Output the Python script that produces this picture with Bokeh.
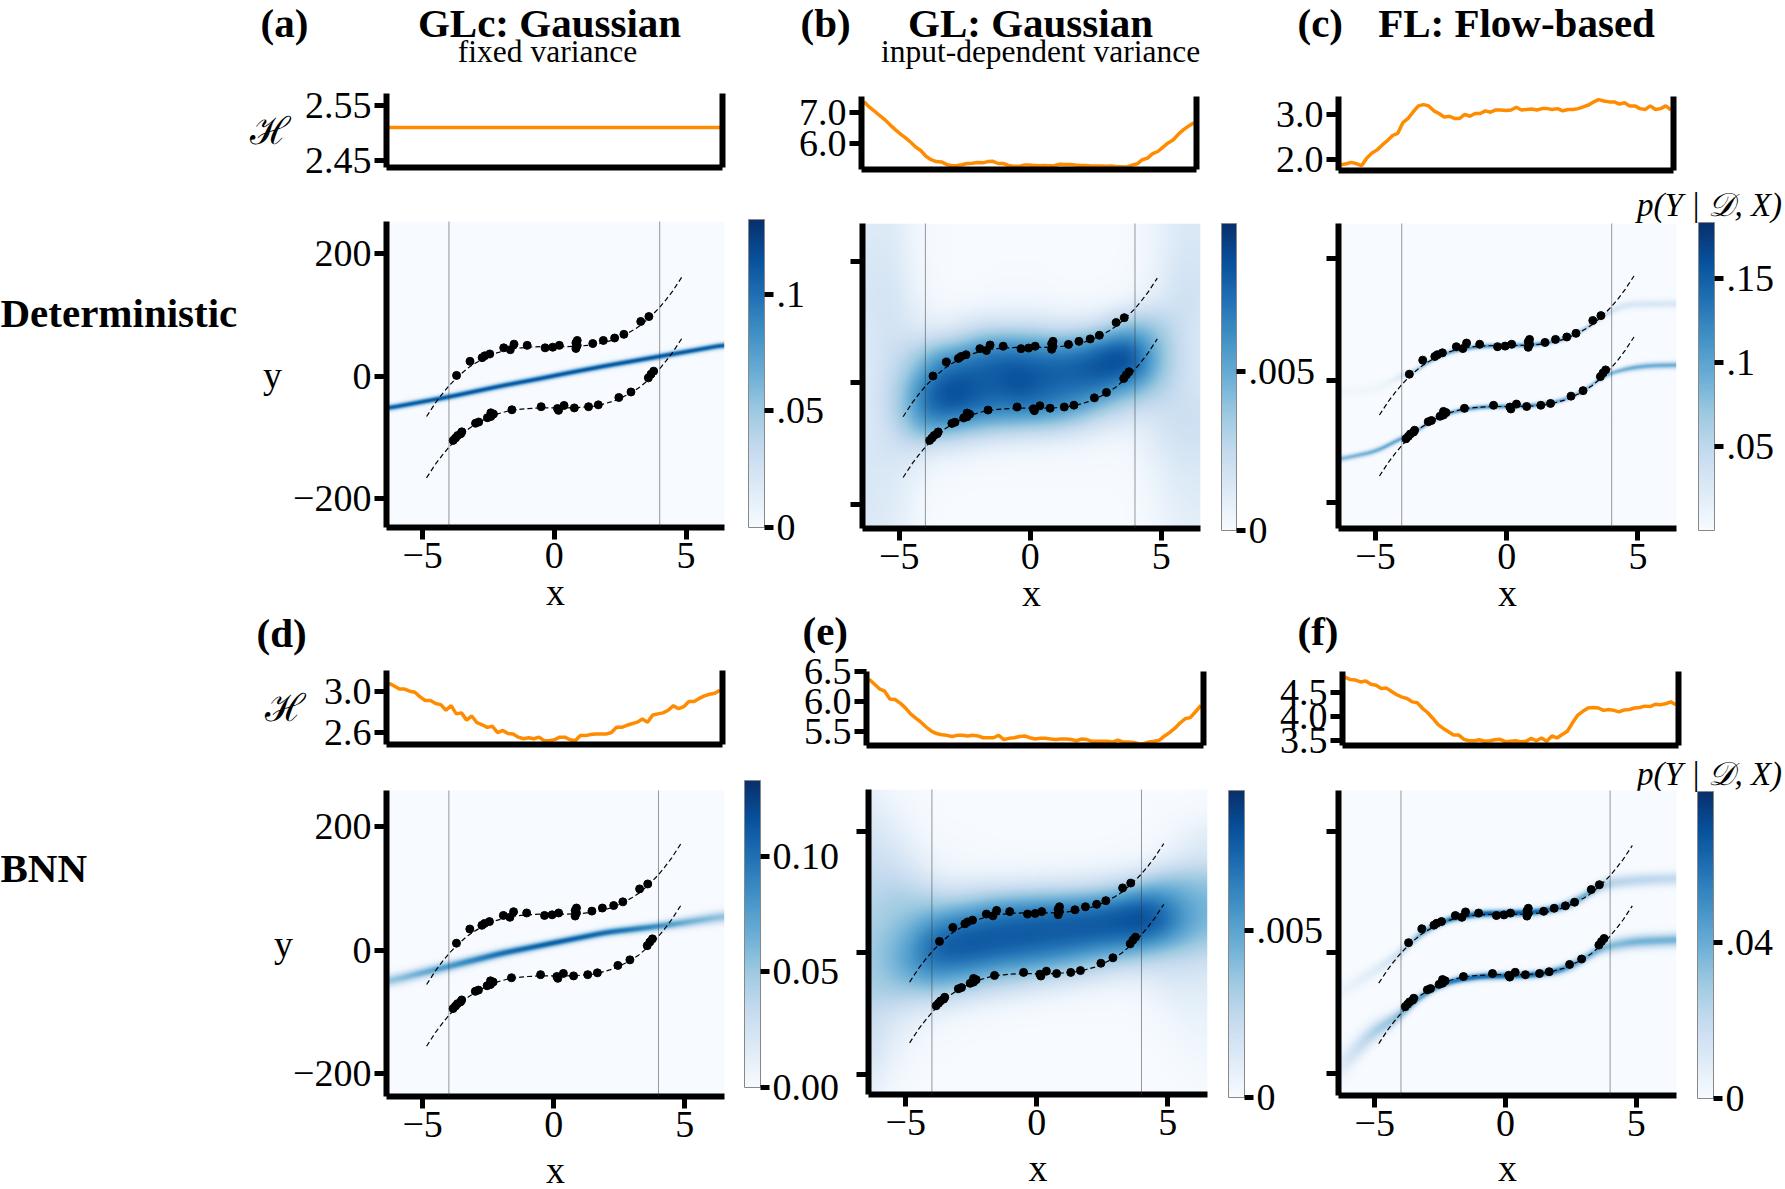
import numpy as np
from bokeh.embed import file_html
from bokeh.layouts import column
from bokeh.models import ColorBar, FixedTicker, Label, LinearAxis, LinearColorMapper, NumeralTickFormatter, Span
from bokeh.palettes import Blues256
from bokeh.plotting import figure
from bokeh.resources import INLINE

FONT = "Liberation Serif"
ORANGE = "#ff8c00"
BLUES = list(Blues256[::-1])
# a column lines up the frames of its figures, so every figure gets the same side borders
ML, MR = 170, 200

# entropy curves, one sample every 0.2 from -6.4 to 6.4
H_X = [-6.4, -6.2, -6.0, -5.8, -5.6, -5.4, -5.2, -5.0, -4.8, -4.6, -4.4, -4.2, -4.0,
       -3.8, -3.6, -3.4, -3.2, -3.0, -2.8, -2.6, -2.4, -2.2, -2.0, -1.8, -1.6, -1.4,
       -1.2, -1.0, -0.8, -0.6, -0.4, -0.2, 0.0, 0.2, 0.4, 0.6, 0.8, 1.0, 1.2, 1.4,
       1.6, 1.8, 2.0, 2.2, 2.4, 2.6, 2.8, 3.0, 3.2, 3.4, 3.6, 3.8, 4.0, 4.2, 4.4,
       4.6, 4.8, 5.0, 5.2, 5.4, 5.6, 5.8, 6.0, 6.2, 6.4]
H_A_X = [-6.5, 6.5]
H_A = [2.51, 2.51]
H_B = [7.33, 7.17, 7.04, 6.90, 6.77, 6.61, 6.46, 6.32, 6.20, 6.06, 5.90, 5.79, 5.61,
       5.50, 5.44, 5.43, 5.35, 5.31, 5.32, 5.34, 5.38, 5.39, 5.41, 5.40, 5.44, 5.45,
       5.38, 5.38, 5.32, 5.29, 5.29, 5.33, 5.33, 5.32, 5.31, 5.32, 5.31, 5.32, 5.36,
       5.35, 5.35, 5.33, 5.32, 5.32, 5.30, 5.30, 5.30, 5.29, 5.30, 5.28, 5.28, 5.27,
       5.33, 5.37, 5.50, 5.55, 5.69, 5.76, 5.90, 6.03, 6.13, 6.31, 6.45, 6.57, 6.67]
H_C = [1.88, 1.90, 1.93, 1.90, 1.86, 2.03, 2.14, 2.21, 2.32, 2.42, 2.53, 2.58, 2.82,
       2.91, 3.06, 3.19, 3.22, 3.19, 3.08, 3.02, 2.94, 2.96, 2.91, 2.91, 3.00, 2.96,
       3.02, 3.02, 3.08, 3.05, 3.10, 3.10, 3.09, 3.10, 3.16, 3.10, 3.11, 3.12, 3.10,
       3.13, 3.13, 3.11, 3.13, 3.08, 3.11, 3.11, 3.13, 3.17, 3.21, 3.28, 3.33, 3.30,
       3.28, 3.28, 3.23, 3.26, 3.19, 3.19, 3.13, 3.11, 3.19, 3.11, 3.13, 3.19, 3.10]
H_D = [3.075, 3.05, 3.02, 3.02, 3.00, 2.99, 2.945, 2.91, 2.91, 2.88, 2.87, 2.815, 2.86,
       2.78, 2.79, 2.72, 2.76, 2.695, 2.675, 2.65, 2.66, 2.60, 2.62, 2.59, 2.585, 2.555,
       2.54, 2.55, 2.54, 2.555, 2.52, 2.52, 2.53, 2.555, 2.555, 2.53, 2.52, 2.57, 2.57,
       2.58, 2.585, 2.585, 2.585, 2.60, 2.65, 2.65, 2.67, 2.685, 2.70, 2.73, 2.70, 2.77,
       2.78, 2.79, 2.815, 2.86, 2.83, 2.85, 2.90, 2.90, 2.93, 2.955, 2.97, 2.98, 3.01]
H_E = [6.37, 6.29, 6.21, 6.17, 6.04, 6.03, 5.97, 5.89, 5.79, 5.72, 5.65, 5.57, 5.50,
       5.46, 5.44, 5.43, 5.41, 5.43, 5.43, 5.42, 5.43, 5.42, 5.39, 5.39, 5.39, 5.43,
       5.36, 5.38, 5.39, 5.41, 5.42, 5.39, 5.37, 5.38, 5.38, 5.37, 5.36, 5.37, 5.37,
       5.36, 5.34, 5.37, 5.36, 5.33, 5.33, 5.33, 5.33, 5.32, 5.35, 5.32, 5.32, 5.31,
       5.29, 5.29, 5.32, 5.33, 5.35, 5.42, 5.48, 5.55, 5.64, 5.71, 5.73, 5.83, 5.93]
H_F = [4.83, 4.78, 4.77, 4.73, 4.75, 4.68, 4.66, 4.59, 4.60, 4.53, 4.46, 4.41, 4.38,
       4.31, 4.29, 4.17, 4.08, 3.96, 3.83, 3.75, 3.68, 3.61, 3.61, 3.52, 3.49, 3.49,
       3.51, 3.48, 3.49, 3.51, 3.52, 3.47, 3.48, 3.49, 3.47, 3.48, 3.54, 3.49, 3.55,
       3.48, 3.59, 3.55, 3.62, 3.69, 3.87, 4.03, 4.11, 4.18, 4.19, 4.18, 4.13, 4.15,
       4.13, 4.10, 4.14, 4.15, 4.18, 4.19, 4.22, 4.21, 4.26, 4.25, 4.27, 4.31, 4.25]

# dashed ground truth branches
CURVE_X = [-4.85, -4.5, -4.25, -4, -3.75, -3.5, -3.25, -3, -2.75, -2.5, -2.25, -2, -1.75,
           -1.5, -1.25, -1, -0.5, 0, 0.5, 1, 1.25, 1.5, 1.75, 2, 2.25, 2.5, 2.75, 3, 3.25,
           3.5, 3.75, 4, 4.25, 4.5, 4.85]
CURVE_UPPER = [-64, -41, -27, -14, -3, 7, 16, 23, 29, 34, 39, 42, 45, 47, 48, 49, 50, 50, 50,
               51, 52, 53, 55, 58, 61, 66, 71, 77, 84, 93, 103, 114, 127, 141, 164]
CURVE_LOWER = [-164, -141, -127, -114, -103, -93, -84, -77, -71, -66, -61, -58, -55, -53, -52,
               -51, -50, -50, -50, -49, -48, -47, -45, -42, -39, -34, -29, -23, -16, -7, 3,
               14, 27, 41, 64]

# training points
DOTS_UP_X = [-3.71, -3.20, -2.74, -2.64, -2.45, -1.92, -1.67, -1.53, -1.03, -0.35, -0.06, 0.19,
             0.82, 0.82, 0.87, 0.87, 1.46, 1.86, 2.29, 2.64, 3.28, 3.59]
DOTS_UP_Y = [3, 26, 32, 35, 38, 48, 45, 54, 52, 48, 49, 52, 47, 56, 60, 52, 55, 60, 64, 70, 91, 99]
DOTS_LOW_X = [-3.84, -3.75, -3.67, -3.55, -3.51, -2.99, -2.87, -2.54, -2.41, -2.41, -2.31, -1.61,
              -0.5, 0.12, 0.16, 0.37, 0.76, 1.3, 1.67, 2.45, 2.91, 3.57, 3.67, 3.77]
DOTS_LOW_Y = [-103, -99, -95, -92, -89, -75, -73, -66, -58, -64, -60, -53, -48, -51, -54, -46, -50,
              -48, -45, -33, -24, -1, 5, 10]

# predictive density, read as percent of each colour scale
B_X = [-6.31, -5.73, -5.09, -4.57, -4.05, -3.54, -2.77, -2.0, -1.22, -0.46, 0.32, 1.1, 1.87, 2.64,
       3.41, 4.05, 4.7, 5.35, 5.99, 6.62]
B_Y = [261, 219, 175, 137, 109, 86, 64, 42, 20, -2, -24, -46, -69, -91, -113, -146, -191, -240]
B_DENSITY = [
    [12, 14, 12, 5, 2, 1, 0, 0, 0, 0, 0, 0, 0, 0, 0, 2, 5, 12, 15, 14],
    [14, 16, 13, 6, 2, 1, 0, 0, 0, 0, 0, 0, 0, 0, 0, 2, 5, 12, 17, 15],
    [15, 17, 15, 7, 3, 1, 0, 0, 1, 1, 1, 0, 0, 0, 1, 2, 6, 14, 20, 16],
    [16, 18, 17, 9, 5, 2, 1, 2, 3, 3, 3, 2, 2, 2, 3, 6, 10, 17, 22, 17],
    [15, 18, 18, 12, 9, 6, 8, 12, 12, 12, 12, 10, 10, 12, 25, 30, 30, 25, 20, 15],
    [14, 18, 19, 15, 14, 14, 18, 28, 32, 32, 30, 26, 28, 35, 48, 52, 42, 30, 20, 14],
    [13, 18, 22, 24, 28, 35, 42, 55, 60, 60, 58, 55, 58, 70, 80, 72, 50, 32, 20, 13],
    [13, 18, 25, 32, 45, 58, 65, 72, 78, 78, 75, 75, 78, 86, 92, 84, 55, 33, 20, 13],
    [12, 18, 28, 40, 55, 72, 80, 82, 84, 88, 84, 82, 84, 88, 88, 78, 52, 32, 20, 14],
    [12, 20, 32, 48, 70, 82, 88, 84, 84, 90, 84, 80, 78, 76, 68, 58, 42, 28, 20, 15],
    [12, 20, 34, 52, 75, 86, 92, 82, 78, 82, 78, 72, 68, 60, 45, 38, 30, 25, 20, 17],
    [13, 20, 34, 50, 70, 78, 78, 72, 68, 68, 66, 60, 52, 38, 28, 22, 20, 22, 22, 20],
    [13, 18, 30, 44, 58, 60, 55, 48, 44, 42, 40, 36, 28, 18, 14, 12, 15, 20, 22, 20],
    [14, 18, 24, 32, 38, 34, 30, 24, 20, 18, 16, 14, 11, 7, 5, 6, 12, 18, 20, 20],
    [15, 17, 18, 18, 16, 12, 10, 7, 5, 4, 4, 3, 3, 2, 2, 4, 10, 15, 18, 17],
    [15, 15, 14, 10, 6, 3, 2, 1, 1, 1, 1, 1, 1, 1, 1, 2, 6, 12, 15, 14],
    [15, 14, 12, 7, 2, 1, 0, 0, 0, 0, 0, 0, 0, 0, 0, 1, 4, 9, 12, 12],
    [14, 14, 10, 5, 1, 0, 0, 0, 0, 0, 0, 0, 0, 0, 0, 1, 3, 7, 10, 10],
]
E_X = [-6.28, -5.77, -5.12, -4.61, -3.96, -3.32, -2.55, -1.77, -1.0, -0.23, 0.54, 1.31, 2.09, 2.86,
       3.63, 4.15, 4.78, 5.43, 6.08, 6.65]
E_Y = [269, 231, 193, 154, 126, 104, 82, 60, 37, 15, -7, -29, -52, -74, -96, -124, -157, -195, -233]
E_DENSITY = [
    [8, 3, 2, 1, 0, 0, 0, 0, 0, 0, 0, 0, 0, 0, 0, 0, 0, 0, 0, 1],
    [14, 8, 5, 2, 1, 0, 0, 0, 0, 0, 0, 0, 0, 0, 0, 0, 1, 1, 2, 3],
    [18, 14, 10, 5, 2, 1, 1, 0, 0, 0, 0, 0, 0, 0, 1, 1, 2, 5, 10, 12],
    [22, 20, 16, 11, 5, 3, 2, 2, 2, 2, 2, 2, 2, 3, 3, 4, 8, 14, 18, 18],
    [26, 26, 24, 18, 12, 8, 7, 8, 8, 8, 10, 10, 12, 14, 20, 26, 35, 38, 38, 36],
    [28, 30, 30, 28, 24, 20, 22, 25, 25, 28, 28, 30, 32, 38, 48, 55, 56, 50, 46, 42],
    [30, 34, 36, 36, 36, 38, 42, 50, 56, 58, 60, 62, 66, 70, 78, 80, 72, 60, 50, 46],
    [32, 36, 40, 44, 52, 60, 66, 72, 76, 78, 80, 82, 84, 86, 90, 90, 82, 66, 52, 46],
    [34, 40, 46, 56, 70, 78, 82, 84, 85, 86, 85, 85, 85, 84, 86, 84, 76, 60, 48, 42],
    [36, 42, 50, 64, 78, 84, 86, 85, 84, 82, 80, 78, 74, 70, 66, 62, 54, 46, 38, 34],
    [36, 44, 54, 66, 78, 82, 80, 76, 72, 68, 64, 58, 50, 44, 40, 36, 32, 28, 26, 24],
    [36, 42, 50, 58, 66, 64, 60, 54, 50, 46, 40, 34, 28, 22, 18, 18, 18, 20, 18, 16],
    [34, 38, 42, 46, 48, 46, 40, 32, 28, 22, 18, 14, 10, 7, 7, 8, 12, 14, 14, 12],
    [30, 32, 30, 28, 28, 24, 18, 14, 10, 7, 5, 3, 3, 2, 2, 4, 7, 10, 11, 10],
    [26, 22, 18, 14, 12, 8, 5, 3, 2, 2, 1, 1, 1, 1, 1, 2, 4, 7, 8, 8],
    [22, 16, 10, 6, 3, 2, 1, 1, 0, 0, 0, 0, 0, 0, 0, 1, 2, 4, 6, 6],
    [20, 12, 6, 3, 1, 1, 0, 0, 0, 0, 0, 0, 0, 0, 0, 0, 1, 2, 4, 4],
    [14, 7, 3, 1, 0, 0, 0, 0, 0, 0, 0, 0, 0, 0, 0, 0, 0, 1, 2, 2],
    [8, 3, 1, 0, 0, 0, 0, 0, 0, 0, 0, 0, 0, 0, 0, 0, 0, 0, 1, 1],
]

# narrow ridges: centre, spread and peak (percent of colour scale) along x
A_RIDGE_X = [-6.4, -4, -2, -0.4, 0.4, 2, 4, 6.5]
A_RIDGE_Y = [-53, -34, -16, -3, 4, 17, 32, 51]
A_RIDGE_S = [3.6, 3.6, 3.6, 3.6, 3.6, 3.6, 3.6, 3.6]
A_RIDGE_P = [85, 88, 88, 88, 88, 88, 88, 85]
D_RIDGE_X = [-6.4, -4, -2, 0, 2, 4, 5, 6.5]
D_RIDGE_Y = [-51, -26, -5, 12, 29, 39, 45, 55]
D_RIDGE_S = [7, 6, 5, 4.5, 4.5, 5, 6, 7]
D_RIDGE_P = [38, 60, 78, 85, 80, 65, 50, 40]
C_LOW_X = [-6.4, -5, -4, -3.5, -3, -2.5, -2, -1, 0, 1, 2, 2.5, 3, 3.5, 3.62, 4, 4.5, 5, 5.5, 6.5]
C_LOW_Y = [-130, -117, -95, -86, -70, -59, -51, -44, -43, -42, -35, -27, -16, 0, 5, 12, 18, 22, 24, 25]
C_LOW_S = [3.5, 3.5, 3.5, 3, 3, 3, 3, 3, 3, 3, 3, 3, 3, 3, 3, 3, 3.5, 4, 4, 4]
C_LOW_P = [45, 50, 55, 50, 50, 52, 55, 60, 60, 60, 55, 45, 45, 45, 45, 45, 50, 50, 50, 50]
C_UP_X = [-6.4, -5, -4.3, -4, -3.5, -3, -2.5, -2, -1, 0, 1, 2, 2.5, 3, 3.5, 3.8, 4.2, 4.5, 5, 6.5]
C_UP_Y = [-20, -15, 2, 8, 14, 30, 41, 49, 56, 57, 58, 65, 73, 84, 100, 109, 118, 124, 125, 126]
C_UP_S = [6, 6, 5, 4, 3, 3, 3, 3, 3, 3, 3, 3, 3, 3, 3, 4, 4.5, 5, 5, 5]
C_UP_P = [3, 4, 6, 12, 35, 45, 50, 55, 60, 60, 60, 50, 40, 40, 30, 20, 14, 15, 15, 15]
F_LOW_X = [-6.4, -5.2, -4.6, -4, -3.5, -3, -2.5, -2, -1, 0, 1, 2, 2.5, 3, 3.5, 4.05, 4.5, 5.1, 6.7]
F_LOW_Y = [-192, -136, -120, -103, -82, -66, -55, -47, -40, -39, -38, -31, -23, -12, 4, 11, 15, 18, 21]
F_LOW_S = [18, 13, 10, 8, 6, 5, 4.5, 4.5, 4.5, 4.5, 4.5, 5, 6, 6, 6, 8, 8, 8, 8]
F_LOW_P = [10, 30, 38, 42, 55, 60, 65, 75, 80, 80, 80, 70, 55, 50, 50, 42, 45, 48, 48]
F_UP_X = [-6.4, -5.2, -4.07, -3.5, -3, -2.5, -2, -1, 0, 1, 2, 2.5, 3, 3.5, 3.9, 4.3, 5.1, 6.7]
F_UP_Y = [-68, -36, -3, 23, 38, 49, 57, 64, 65, 66, 73, 81, 92, 108, 114, 117, 120, 123]
F_UP_S = [10, 9, 7, 6, 5, 4.5, 4.5, 4.5, 4.5, 4.5, 5, 6, 6, 6, 8, 8, 8, 8]
F_UP_P = [5, 10, 18, 40, 55, 65, 75, 85, 85, 85, 70, 55, 50, 45, 30, 28, 28, 25]

X_TICKS = [-5, 0, 5]
Y_TICKS = [-200, 0, 200]
VLINES = [-4, 4]

# frame boxes in page pixels: left, right, top, bottom
PANELS = [
    dict(h=H_A, hx=H_A_X, hbox=(386.5, 722, 93, 167), hy=(2.437, 2.572), hticks=[2.45, 2.55], hfmt="0.00", hstand=12,
         box=(386.5, 724, 221, 527), xr=(-6.37, 6.46), yr=(-247, 252), shift=-2, ystand=8, xstand=0,
         ridges=[(A_RIDGE_X, A_RIDGE_Y, A_RIDGE_S, A_RIDGE_P)],
         cb=(748, 764, 219, 527), vmax=0.132, cticks={0: "0", 0.05: ".05", 0.1: ".1"}),
    dict(h=H_B, hx=H_X, hbox=(861, 1196, 96, 169), hy=(5.19, 7.5), hticks=[6.0, 7.0], hfmt="0.0", hstand=None,
         box=(862.5, 1200, 223, 528), xr=(-6.4, 6.5), yr=(-240, 262), shift=8, ystand=None, xstand=0,
         matrix=(B_X, B_Y, B_DENSITY),
         cb=(1221.5, 1236.5, 223, 530), vmax=0.00965, cticks={0: "0", 0.005: ".005"}),
    dict(h=H_C, hx=H_X, hbox=(1338, 1673, 96.5, 171), hy=(1.75, 3.4), hticks=[2.0, 3.0], hfmt="0.0", hstand=None,
         box=(1338, 1675.6, 223, 528), xr=(-6.41, 6.47), yr=(-243, 257), shift=7, ystand=None, xstand=0,
         ridges=[(C_LOW_X, C_LOW_Y, C_LOW_S, C_LOW_P), (C_UP_X, C_UP_Y, C_UP_S, C_UP_P)],
         cb=(1697.6, 1713.3, 222, 530), vmax=0.183, cticks={0.05: ".05", 0.1: ".1", 0.15: ".15"}),
    dict(h=H_D, hx=H_X, hbox=(386.5, 722, 670, 744), hy=(2.484, 3.2), hticks=[2.6, 3.0], hfmt="0.0", hstand=16,
         box=(386.5, 724, 790.5, 1096), xr=(-6.38, 6.52), yr=(-237, 259), shift=8.5, ystand=-3, xstand=9,
         ridges=[(D_RIDGE_X, D_RIDGE_Y, D_RIDGE_S, D_RIDGE_P)],
         cb=(745, 761.5, 779.6, 1087), vmax=0.1327, cticks={0: "0.00", 0.05: "0.05", 0.1: "0.10"}),
    dict(h=H_E, hx=H_X, hbox=(866, 1203, 670.6, 744.6), hy=(5.26, 6.5), hticks=[5.5, 6.0, 6.5], hfmt="0.0", hstand=None,
         box=(868, 1206.6, 789, 1094), xr=(-6.42, 6.52), yr=(-233, 269), shift=16, ystand=None, xstand=9,
         matrix=(E_X, E_Y, E_DENSITY),
         cb=(1228, 1243.6, 789.7, 1097), vmax=0.0092, cticks={0: "0", 0.005: ".005"}),
    dict(h=H_F, hx=H_X, hbox=(1342, 1678, 670.6, 745), hy=(3.39, 4.95), hticks=[3.5, 4.0, 4.5], hfmt="0.0", hstand=None,
         box=(1338, 1676, 789.7, 1094.4), xr=(-6.39, 6.54), yr=(-237, 268), shift=13, ystand=None, xstand=8,
         ridges=[(F_LOW_X, F_LOW_Y, F_LOW_S, F_LOW_P), (F_UP_X, F_UP_Y, F_UP_S, F_UP_P)],
         cb=(1697, 1713, 789.7, 1097), vmax=0.0785, cticks={0: "0", 0.04: ".04"}),
]

# page texts: text, x, y, size, style, align
LEFT_TEXT = [
    ("(a)", 260, 22, 41, "bold", "left"), ("GLc: Gaussian", 549, 22, 41, "bold", "center"),
    ("fixed variance", 547, 51, 31.5, "normal", "center"),
    ("(b)", 800, 22, 41, "bold", "left"), ("GL: Gaussian", 1030, 22, 41, "bold", "center"),
    ("input-dependent variance", 1040, 51, 31.5, "normal", "center"),
    ("Deterministic", 0, 312, 41, "bold", "left"), ("BNN", 0, 867, 41, "bold", "left"),
    ("(d)", 256, 632, 41, "bold", "left"), ("(e)", 802, 630, 41, "bold", "left"),
]
RIGHT_TEXT = [
    ("(c)", 1297, 22, 41, "bold", "left"), ("FL: Flow-based", 1516, 22, 41, "bold", "center"),
    ("(f)", 1297, 630, 41, "bold", "left"),
    ("p(Y | \U0001d49f, X)", 1709, 204, 33, "italic", "center"),
    ("p(Y | \U0001d49f, X)", 1709, 773, 33, "italic", "center"),
]


def new_fig(x_range, y_range, box, mt, mb):
    l, r, t, b = box
    p = figure(x_range=x_range, y_range=y_range, frame_width=round(r - l), frame_height=round(b - t),
               min_border_left=ML, min_border_right=MR, min_border_top=mt, min_border_bottom=mb,
               output_backend="svg", toolbar_location=None, x_axis_type=None, y_axis_type=None)
    p.outline_line_color = None
    p.border_fill_color = None
    p.background_fill_color = None
    p.xgrid.visible = False
    p.ygrid.visible = False
    p.styles = {"position": "absolute", "left": f"{round(l) - ML}px", "top": f"{round(t) - mt}px"}
    return p


def style_axis(ax, ticks, width=6):
    ax.ticker = FixedTicker(ticks=ticks)
    ax.axis_line_color = "black"
    ax.axis_line_width = width
    ax.major_tick_line_color = "black"
    ax.major_tick_line_width = 5
    ax.major_tick_in = 0
    ax.major_tick_out = 12
    ax.minor_tick_line_color = None
    ax.major_label_text_font = FONT
    ax.major_label_text_font_size = "38px"
    ax.major_label_text_color = "black"
    ax.major_label_standoff = 3
    ax.axis_label_text_font = FONT
    ax.axis_label_text_font_size = "38px"
    ax.axis_label_text_font_style = "normal"
    ax.axis_label_text_color = "black"


def entropy_fig(cfg):
    p = new_fig((-6.5, 6.5), cfg["hy"], cfg["hbox"], 30, 30)
    left = LinearAxis()
    style_axis(left, cfg["hticks"])
    left.formatter = NumeralTickFormatter(format=cfg["hfmt"])
    if cfg["hstand"] is not None:
        left.axis_label = "\u210b"
        left.axis_label_orientation = "horizontal"
        left.axis_label_standoff = cfg["hstand"]
    p.add_layout(left, "left")
    bottom = LinearAxis()
    style_axis(bottom, [])
    p.add_layout(bottom, "below")
    right = LinearAxis()
    style_axis(right, [])
    p.add_layout(right, "right")
    p.line(cfg["hx"], cfg["h"], line_color=ORANGE, line_width=3.5)
    return p


def soften(v, n=25):
    k = np.ones(n) / n
    return np.convolve(np.pad(v, n // 2, mode="edge"), k, mode="valid")


def from_matrix(xc, yc, density, xs, ys):
    m = np.array(density, dtype=float)
    order = np.argsort(yc)
    m = m[order]
    yc = np.array(yc, dtype=float)[order]
    by_row = np.array([np.interp(xs, xc, row) for row in m])
    grid = np.array([np.interp(ys, yc, by_row[:, j]) for j in range(len(xs))]).T
    for axis in (0, 1):
        grid = np.apply_along_axis(soften, axis, grid)
    return grid


def from_ridges(ridges, xs, ys):
    grid = np.zeros((len(ys), len(xs)))
    for rx, ry, rs, rp in ridges:
        cy = soften(np.interp(xs, rx, ry), 21)
        sd = soften(np.interp(xs, rx, rs), 21)
        pk = soften(np.interp(xs, rx, rp), 21)
        grid = np.maximum(grid, pk * np.exp(-0.5 * ((ys[:, None] - cy) / sd) ** 2))
    return grid


def heat_fig(cfg):
    l, r, t, b = cfg["box"]
    mb = 93 if t > 600 else 95
    p = new_fig(cfg["xr"], cfg["yr"], cfg["box"], 20, mb)
    nx, ny = round(r - l), round(b - t)
    xs = np.linspace(cfg["xr"][0], cfg["xr"][1], nx)
    ys = np.linspace(cfg["yr"][0], cfg["yr"][1], ny)
    if "matrix" in cfg:
        grid = from_matrix(*cfg["matrix"], xs, ys)
    else:
        grid = from_ridges(cfg["ridges"], xs, ys)
    mapper = LinearColorMapper(palette=BLUES, low=0, high=cfg["vmax"])
    p.image(image=[grid * cfg["vmax"] / 100], x=cfg["xr"][0], y=cfg["yr"][0],
            dw=cfg["xr"][1] - cfg["xr"][0], dh=cfg["yr"][1] - cfg["yr"][0], color_mapper=mapper)
    for v in VLINES:
        p.add_layout(Span(location=v, dimension="height", line_color="#333333", line_width=1, line_dash="1 1"))
    shift = cfg["shift"]
    for branch in (CURVE_UPPER, CURVE_LOWER):
        p.line(CURVE_X, [v + shift for v in branch], line_color="black", line_width=1.2, line_dash="5 3")
    p.scatter(DOTS_UP_X, [v + shift for v in DOTS_UP_Y], size=8, color="black")
    p.scatter(DOTS_LOW_X, [v + shift for v in DOTS_LOW_Y], size=8, color="black")

    left = LinearAxis()
    style_axis(left, Y_TICKS)
    if cfg["ystand"] is not None:
        left.major_label_overrides = {-200: "\u2212200", 0: "0", 200: "200"}
        left.axis_label = "y"
        left.axis_label_orientation = "horizontal"
        left.axis_label_standoff = cfg["ystand"]
    else:
        left.major_label_overrides = {-200: "", 0: "", 200: ""}
    p.add_layout(left, "left")
    bottom = LinearAxis()
    style_axis(bottom, X_TICKS)
    bottom.major_label_overrides = {-5: "\u22125", 0: "0", 5: "5"}
    bottom.axis_label = "x"
    bottom.axis_label_standoff = cfg["xstand"]
    p.add_layout(bottom, "below")

    cl, cr, ct, cb_bottom = cfg["cb"]
    bar = ColorBar(color_mapper=mapper, ticker=FixedTicker(ticks=list(cfg["cticks"])),
                   major_label_overrides=cfg["cticks"], width=round(cr - cl), height=round(cb_bottom - ct),
                   location=(round(cl - l), round(b - cb_bottom)), padding=0,
                   background_fill_color=None, border_line_color=None,
                   bar_line_color="#888888", bar_line_width=1,
                   major_tick_line_color="black", major_tick_line_width=5, major_tick_in=0, major_tick_out=9,
                   minor_tick_line_color=None, label_standoff=3,
                   major_label_text_font=FONT, major_label_text_font_size="38px", major_label_text_color="black")
    p.add_layout(bar, "center")
    return p


# labels are clipped to a frame and a frame can span only 1415 px here,
# so the loose texts sit on two figures, one for each side of the page
def text_fig(texts, x0):
    box = (x0, x0 + 1785 - ML - MR, 0, 1189)
    p = new_fig((box[0], box[1]), (1189, 0), box, 0, 0)
    for text, x, y, size, style, align in texts:
        p.add_layout(Label(x=x, y=y, text=text, text_font=FONT, text_font_size=f"{size}px", text_font_style=style,
                           text_align=align, text_baseline="middle", text_color="black"))
    return p


figs = [text_fig(LEFT_TEXT, 0), text_fig(RIGHT_TEXT, ML + MR)]
for cfg in PANELS:
    figs.append(entropy_fig(cfg))
    figs.append(heat_fig(cfg))

root = column(*figs, width=1785, height=1189,
              styles={"position": "absolute", "left": "0px", "top": "0px", "overflow": "hidden"})

open("out.html", "w").write(file_html(root, INLINE))
